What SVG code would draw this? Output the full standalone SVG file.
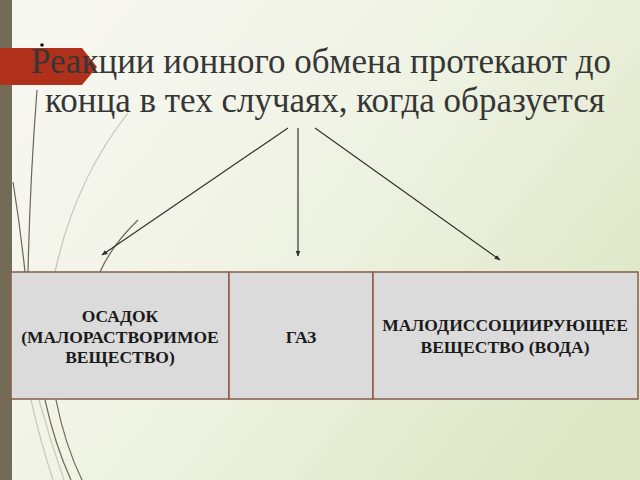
<svg xmlns="http://www.w3.org/2000/svg" width="640" height="480" viewBox="0 0 640 480">
  <defs>
    <linearGradient id="bg" x1="0" y1="0.2" x2="1" y2="0.8">
      <stop offset="0" stop-color="#f7f7f1"/>
      <stop offset="0.5" stop-color="#eef2e2"/>
      <stop offset="1" stop-color="#dce6c3"/>
    </linearGradient>
    <marker id="ah" viewBox="0 0 10 10" refX="9" refY="5" markerWidth="6" markerHeight="6" orient="auto" markerUnits="userSpaceOnUse">
      <path d="M0,1 L10,5 L0,9 z" fill="#2e2e2e"/>
    </marker>
    <style>
      .title { font-family: "Liberation Serif", "Times New Roman", serif; font-size: 35px; fill: #363636; text-anchor: middle; }
      .cell { fill: #dbdbdb; stroke: #8a5a48; stroke-width: 1.5; }
      .lbl { font-family: "Liberation Serif", "Times New Roman", serif; font-size: 17.5px; font-weight: bold; fill: #1a1a1a; text-anchor: middle; }
      .conn { stroke: #333; stroke-width: 1.2; fill: none; marker-end: url(#ah); }
      .deco { fill: none; stroke-width: 1.2; }
    </style>
  </defs>

  <rect x="0" y="0" width="640" height="480" fill="url(#bg)"/>
  <rect x="0" y="0" width="12" height="480" fill="#736b55"/>

  <!-- decorative curves -->
  <g id="decoration">
    <path class="deco" d="M37,90 Q30,180 28,272" stroke="#6b6658"/>
    <path class="deco" d="M13,182 Q20,225 25,272" stroke="#6b6658"/>
    <path class="deco" d="M128,113 Q75,180 55,272" stroke="#c4c4bc"/>
    <path class="deco" d="M138,220 Q112,245 100,272" stroke="#6b6658"/>
    <path class="deco" d="M31,400 Q40,440 53,480" stroke="#c8c9bb"/>
    <path class="deco" d="M39,400 Q50,440 64,480" stroke="#c8c9bb"/>
    <path class="deco" d="M45,400 Q55,445 71,480" stroke="#6f6a58" stroke-width="1.8"/>
    <path class="deco" d="M56,400 Q65,445 82,480" stroke="#6f6a58" stroke-width="1.8"/>
  </g>

  <!-- banner -->
  <polygon points="0,48 82,48 97,67 82,85 0,85" fill="#b0311b"/>
  <circle cx="42" cy="45" r="1.8" fill="#111"/>

  <g id="title">
    <text class="title" x="321" y="73">Реакции ионного обмена протекают до</text>
    <text class="title" x="325" y="112">конца в тех случаях, когда образуется</text>
  </g>

  <g id="connectors">
    <line class="conn" x1="288" y1="128" x2="102" y2="255"/>
    <line class="conn" x1="298" y1="128" x2="298" y2="256"/>
    <line class="conn" x1="315" y1="128" x2="500" y2="260"/>
  </g>

  <g id="node-osadok">
    <rect class="cell" x="11" y="272" width="218" height="127"/>
    <text class="lbl" x="120" y="322">ОСАДОК</text>
    <text class="lbl" x="120" y="343">(МАЛОРАСТВОРИМОЕ</text>
    <text class="lbl" x="120" y="363">ВЕЩЕСТВО)</text>
  </g>
  <g id="node-gaz">
    <rect class="cell" x="229" y="272" width="144" height="127"/>
    <text class="lbl" x="301" y="343">ГАЗ</text>
  </g>
  <g id="node-voda">
    <rect class="cell" x="373" y="272" width="265" height="127"/>
    <text class="lbl" x="505" y="331">МАЛОДИССОЦИИРУЮЩЕЕ</text>
    <text class="lbl" x="505" y="353">ВЕЩЕСТВО (ВОДА)</text>
  </g>
</svg>
